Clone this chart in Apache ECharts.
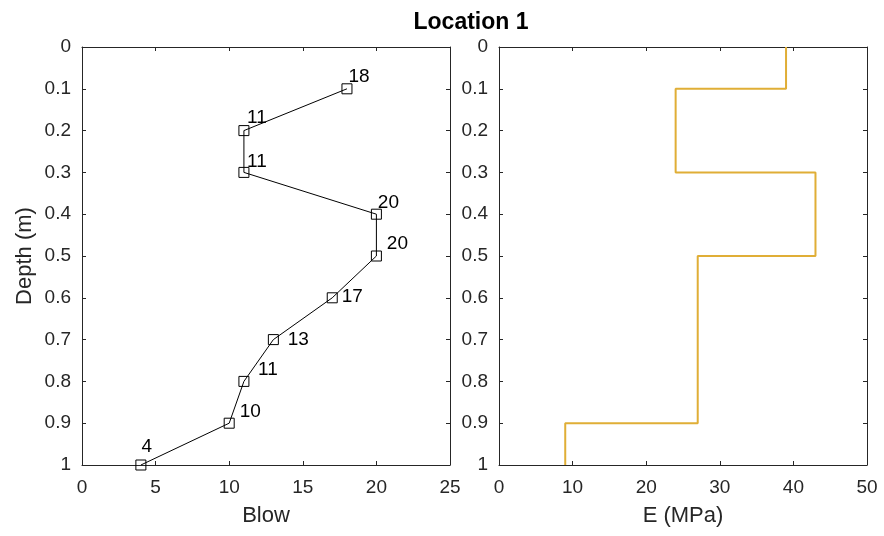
<!DOCTYPE html>
<html>
<head>
<meta charset="utf-8">
<script src="https://cdn.jsdelivr.net/npm/echarts@6/dist/echarts.min.js"></script>
<style>html,body{margin:0;padding:0;background:#fff;}#c{width:884px;height:536px;}</style>
</head>
<body>
<div id="c"></div>
<script>
// ---- data ----
const title = 'Location 1';
const depths = [0.1, 0.2, 0.3, 0.4, 0.5, 0.6, 0.7, 0.8, 0.9, 1.0];
const blows = [18, 11, 11, 20, 20, 17, 13, 11, 10, 4];
const layerTops = [0, 0.1, 0.3, 0.5, 0.9];
const layerBottoms = [0.1, 0.3, 0.5, 0.9, 1.0];
const modulusE = [39, 24, 43, 27, 9];
const blowTicks = [0, 5, 10, 15, 20, 25];
const eTicks = [0, 10, 20, 30, 40, 50];
const depthTicks = [0, 0.1, 0.2, 0.3, 0.4, 0.5, 0.6, 0.7, 0.8, 0.9, 1];

// label offsets (styling only) [dx, dy] in px relative to marker
const labelOffsets = [[12,-12],[13,-13],[13,-11],[12,-11],[21,-12],[20,-1],[25,0],[24,-12],[21,-11],[6,-18]];

const axisColor = '#262626';
const font = 'Liberation Sans, Arial, Helvetica, sans-serif';
const tickFont = 19, nameFont = 22;

const stepData = [];
modulusE.forEach((e, i) => {
  stepData.push([e, layerTops[i]]);
  stepData.push([e, layerBottoms[i]]);
});

function xAxes(gridIndex, ticks, name) {
  const min = ticks[0], max = ticks[ticks.length - 1], interval = ticks[1] - ticks[0];
  return [{
    gridIndex, type: 'value', position: 'bottom', min, max, interval,
    name, nameLocation: 'middle', nameGap: 40,
    nameTextStyle: { color: axisColor, fontSize: nameFont, fontFamily: font },
    axisLine: { show: true, onZero: false, lineStyle: { color: axisColor, width: 1 } },
    axisTick: { show: true, inside: true, length: 4, lineStyle: { color: axisColor } },
    axisLabel: { color: axisColor, fontSize: tickFont, fontFamily: font, margin: 13 },
    splitLine: { show: false }
  }, {
    gridIndex, type: 'value', position: 'top', min, max, interval,
    axisLine: { show: true, onZero: false, lineStyle: { color: axisColor, width: 1 } },
    axisTick: { show: true, inside: true, length: 4, lineStyle: { color: axisColor } },
    axisLabel: { show: false }, splitLine: { show: false }
  }];
}
function yAxes(gridIndex, withName) {
  const min = depthTicks[0], max = depthTicks[depthTicks.length - 1];
  const interval = 0.1;
  return [{
    gridIndex, type: 'value', position: 'left', inverse: true, min, max, interval,
    name: withName ? 'Depth (m)' : '', nameLocation: 'middle', nameGap: 46,
    nameTextStyle: { color: axisColor, fontSize: nameFont, fontFamily: font },
    axisLine: { show: true, onZero: false, lineStyle: { color: axisColor, width: 1 } },
    axisTick: { show: true, inside: true, length: 4, lineStyle: { color: axisColor } },
    axisLabel: { color: axisColor, fontSize: tickFont, fontFamily: font, margin: 11,
      formatter: v => String(Math.round(v * 10) / 10) },
    splitLine: { show: false }
  }, {
    gridIndex, type: 'value', position: 'right', inverse: true, min, max, interval,
    axisLine: { show: true, onZero: false, lineStyle: { color: axisColor, width: 1 } },
    axisTick: { show: true, inside: true, length: 4, lineStyle: { color: axisColor } },
    axisLabel: { show: false }, splitLine: { show: false }
  }];
}

const chart = echarts.init(document.getElementById('c'), null, { renderer: 'canvas' });
chart.setOption({
  animation: false,
  backgroundColor: '#fff',
  title: { text: title, left: 466, top: 6, textAlign: 'center',
    textStyle: { fontSize: 23, fontWeight: 'bold', color: '#000', fontFamily: font } },
  grid: [
    { left: 82, right: 434, top: 47, bottom: 71 },
    { left: 499, right: 17, top: 47, bottom: 71 }
  ],
  xAxis: [...xAxes(0, blowTicks, 'Blow'), ...xAxes(1, eTicks, 'E (MPa)')],
  yAxis: [...yAxes(0, true), ...yAxes(1, false)],
  series: [{
    type: 'line', xAxisIndex: 0, yAxisIndex: 0,
    data: blows.map((b, i) => ({
      value: [b, depths[i]],
      label: { show: true, position: 'inside', formatter: String(b), offset: labelOffsets[i],
        color: '#000', fontSize: 19, fontFamily: font }
    })),
    lineStyle: { color: '#000', width: 1 },
    symbol: 'rect', symbolSize: 10, showAllSymbol: true,
    itemStyle: { color: 'rgba(0,0,0,0)', borderColor: '#000', borderWidth: 1 },
    z: 3
  }, {
    type: 'line', xAxisIndex: 2, yAxisIndex: 2,
    data: stepData,
    lineStyle: { color: '#E0AE36', width: 2 },
    symbol: 'none'
  }]
});
</script>
</body>
</html>
